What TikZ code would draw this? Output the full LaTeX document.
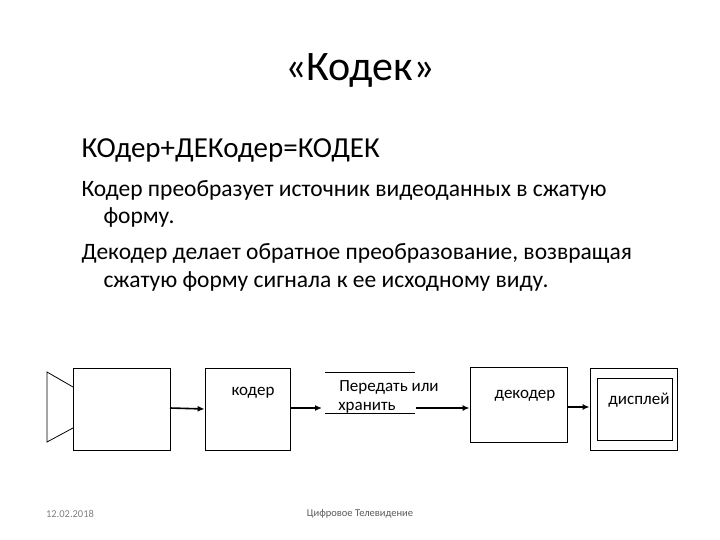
\documentclass[tikz,border=0pt]{standalone}
\usepackage{fontspec}
\setmainfont{Carlito}
\usetikzlibrary{arrows.meta}
\tikzset{>={Latex[width=6pt,length=7pt]}}

\begin{document}
\begin{tikzpicture}[x=1pt,y=-1pt]
  \tikzset{blk/.style={draw, thick, inner sep=0pt},
    flow/.style={->, line width=1.6pt},
    lbl/.style={font=\fontsize{17}{20}\selectfont},
    para/.style={anchor=west, font=\fontsize{23.5}{28}\selectfont}}

  \useasboundingbox (0,0) rectangle (720,540);

  \node (title) at (360,70) {\fontsize{42}{46}\selectfont «Кодек»};
  \node[anchor=west] (sum) at (78,150) {\fontsize{29}{34}\selectfont КОдер+ДЕКодер=КОДЕК};
  \node[para] (l1) at (78,190) {Кодер преобразует источник видеоданных в сжатую};
  \node[para] (l2) at (100,217) {форму.};
  \node[para] (l3) at (78,253) {Декодер делает обратное преобразование, возвращая};
  \node[para] (l4) at (100,281) {сжатую форму сигнала к ее исходному виду.};

  % camera
  \node[blk, minimum width=97pt, minimum height=82pt] (cam) at (121.5,409) {};
  \draw[thick] (73,387) -- (47,372) -- (47,442) -- (73,428);

  \node[blk, minimum width=85pt, minimum height=82pt] (enc) at (247.5,409) {};
  \node[lbl] (enct) at (253,393) {кодер};

  % store
  \coordinate (sin) at (322,408);
  \coordinate (sout) at (416,408);
  \draw[thick] (325,372) -- (415,372);
  \draw[thick] (325,413) -- (415,413);
  \node[lbl] (st1) at (389,387) {Передать или};
  \node[lbl] (st2) at (367,408) {хранить};

  \node[blk, minimum width=97pt, minimum height=75pt] (dec) at (518.5,405) {};
  \node[lbl] (dect) at (525,396) {декодер};

  \node[blk, minimum width=87pt, minimum height=82pt] (disp) at (633.5,409) {};
  \node[blk, minimum width=75pt, minimum height=62pt] (scr) at (634.5,409) {};
  \node[lbl] (dispt) at (639,400) {дисплей};

  \draw[flow] (170,408) -- (enc.west);
  \draw[flow] (290,408) -- (sin);
  \draw[flow] (sout) -- (dec.west |- sout);
  \draw[flow] (dec.east |- 0,407) -- (disp.west |- 0,407);

  \node[text=gray] (date) at (70,514) {\fontsize{10.5}{12}\selectfont 12.02.2018};
  \node[text=gray!70!black] (foot) at (360,514) {\fontsize{10.5}{12}\selectfont Цифровое Телевидение};
\end{tikzpicture}
\end{document}
